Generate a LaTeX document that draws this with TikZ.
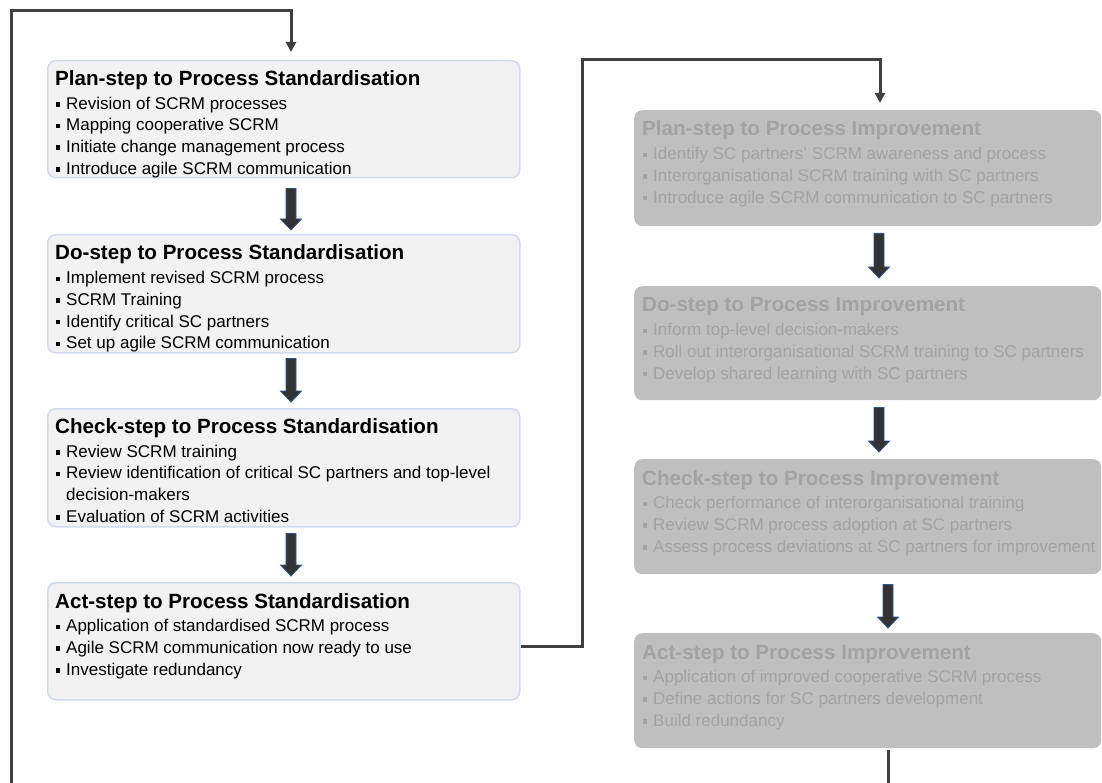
\documentclass[tikz,border=0pt]{standalone}
\usepackage{fontspec}
\setmainfont{Liberation Sans}
\usetikzlibrary{calc,arrows.meta}

\definecolor{lfill}{HTML}{F2F2F2}
\definecolor{lborder}{HTML}{D3DAEF}
\definecolor{rfill}{HTML}{BFBFBF}
\definecolor{rtext}{HTML}{A3A3A3}
\definecolor{conncol}{HTML}{404040}
\definecolor{arrfill}{HTML}{333333}
\definecolor{arredge}{HTML}{2F5496}

% box contents: bold heading followed by square-bulleted lines
\newcommand{\steptitle}[1]{{\fontsize{20.6}{24}\selectfont\bfseries #1\par}\vspace{2pt}}
\newcommand{\stepitem}[1]{\par\hangindent=11pt\hangafter=1\noindent
  \makebox[11pt][l]{\hspace{0.5pt}\raisebox{2.6pt}{\rule{4.5pt}{4.5pt}}}#1}
\newcommand{\steptext}[1]{\parbox[t]{520pt}{\raggedright\fontsize{17}{21.7}\selectfont #1}}

\begin{document}
\begin{tikzpicture}[x=1pt,y=-1pt,
  lbox/.style={draw=lborder, line width=1.5pt, fill=lfill, rounded corners=8pt,
    minimum width=472pt, anchor=north west, inner sep=0pt},
  rbox/.style={draw=none, fill=rfill, rounded corners=8pt,
    minimum width=467pt, anchor=north west, inner sep=0pt},
  ltext/.style={anchor=base west, inner sep=0pt, text=black},
  rtxt/.style={anchor=base west, inner sep=0pt, text=rtext},
  conn/.style={draw=conncol, line width=3pt},
  tipped/.style={-{Triangle[width=10pt,length=10pt]}},
  blockarr/.style={fill=arrfill, draw=arredge, line width=0.8pt,
    to path={let \p1=(\tikztostart), \p2=(\tikztotarget) in
      ({\x1-5pt},{\y1}) -- ({\x1+5pt},{\y1}) -- ({\x1+5pt},{\y2+11pt})
      -- ({\x1+10.5pt},{\y2+11pt}) -- ({\x1},{\y2}) -- ({\x1-10.5pt},{\y2+11pt})
      -- ({\x1-5pt},{\y2+11pt}) -- cycle}}
]
\useasboundingbox (0,0) rectangle (1102,783);

% ---- standardisation cycle ----
\node[lbox, minimum height=117pt] (plan1) at (47,60) {};
\node[lbox, minimum height=118pt] (do1) at (47,234) {};
\node[lbox, minimum height=118pt] (check1) at (47,408) {};
\node[lbox, minimum height=117pt] (act1) at (47,582) {};

\node[ltext] (plan1t) at ($(plan1.north west)+(8,25.5)$) {\steptext{%
  \steptitle{Plan-step to Process Standardisation}
  \stepitem{Revision of SCRM processes}
  \stepitem{Mapping cooperative SCRM}
  \stepitem{Initiate change management process}
  \stepitem{Introduce agile SCRM communication}}};

\node[ltext] (do1t) at ($(do1.north west)+(8,26)$) {\steptext{%
  \steptitle{Do-step to Process Standardisation}
  \stepitem{Implement revised SCRM process}
  \stepitem{SCRM Training}
  \stepitem{Identify critical SC partners}
  \stepitem{Set up agile SCRM communication}}};

\node[ltext] (check1t) at ($(check1.north west)+(8,25.5)$) {\steptext{%
  \steptitle{Check-step to Process Standardisation}
  \stepitem{Review SCRM training}
  \stepitem{Review identification of critical SC partners and top-level\newline decision-makers}
  \stepitem{Evaluation of SCRM activities}}};

\node[ltext] (act1t) at ($(act1.north west)+(8,26)$) {\steptext{%
  \steptitle{Act-step to Process Standardisation}
  \stepitem{Application of standardised SCRM process}
  \stepitem{Agile SCRM communication now ready to use}
  \stepitem{Investigate redundancy}}};

% ---- improvement cycle ----
\node[rbox, minimum height=116pt] (plan2) at (634,110) {};
\node[rbox, minimum height=114pt] (do2) at (634,286) {};
\node[rbox, minimum height=115pt] (check2) at (634,459) {};
\node[rbox, minimum height=115pt] (act2) at (634,633) {};

\node[rtxt] (plan2t) at ($(plan2.north west)+(8,26)$) {\steptext{%
  \steptitle{Plan-step to Process Improvement}
  \stepitem{Identify SC partners' SCRM awareness and process}
  \stepitem{Interorganisational SCRM training with SC partners}
  \stepitem{Introduce agile SCRM communication to SC partners}}};

\node[rtxt] (do2t) at ($(do2.north west)+(8,26)$) {\steptext{%
  \steptitle{Do-step to Process Improvement}
  \stepitem{Inform top-level decision-makers}
  \stepitem{Roll out interorganisational SCRM training to SC partners}
  \stepitem{Develop shared learning with SC partners}}};

\node[rtxt] (check2t) at ($(check2.north west)+(8,26)$) {\steptext{%
  \steptitle{Check-step to Process Improvement}
  \stepitem{Check performance of interorganisational training}
  \stepitem{Review SCRM process adoption at SC partners}
  \stepitem{Assess process deviations at SC partners for improvement}}};

\node[rtxt] (act2t) at ($(act2.north west)+(8,26)$) {\steptext{%
  \steptitle{Act-step to Process Improvement}
  \stepitem{Application of improved cooperative SCRM process}
  \stepitem{Define actions for SC partners development}
  \stepitem{Build redundancy}}};

% ---- block arrows between steps ----
\path[blockarr] ($(plan1.south west)+(244,10)$) to ($(do1.north west)+(244,-4)$);
\path[blockarr] ($(do1.south west)+(244,5)$) to ($(check1.north west)+(244,-6)$);
\path[blockarr] ($(check1.south west)+(244,6)$) to ($(act1.north west)+(244,-6)$);

\path[blockarr] ($(plan2.south west)+(245,7)$) to ($(do2.north west)+(245,-8)$);
\path[blockarr] ($(do2.south west)+(245,7)$) to ($(check2.north west)+(245,-7)$);
\path[blockarr] ($(check2.south west)+(254,10)$) to ($(act2.north west)+(254,-5)$);

% ---- connectors ----
\coordinate (loopFoot) at (11,783);
\coordinate (loopTop) at (11,11);
\draw[conn, tipped] (loopFoot) -- (loopTop) -| ($(plan1.north west)+(244,-8)$);

\coordinate (linkTop) at (582,60);
\draw[conn, tipped] ($(act1.east)+(0,5.5)$) -| (linkTop) -| ($(plan2.north west)+(246,-7)$);

\coordinate (rightFoot) at (888,783);
\draw[conn] ($(act2.south west)+(254,2)$) -- (rightFoot);
\end{tikzpicture}
\end{document}
